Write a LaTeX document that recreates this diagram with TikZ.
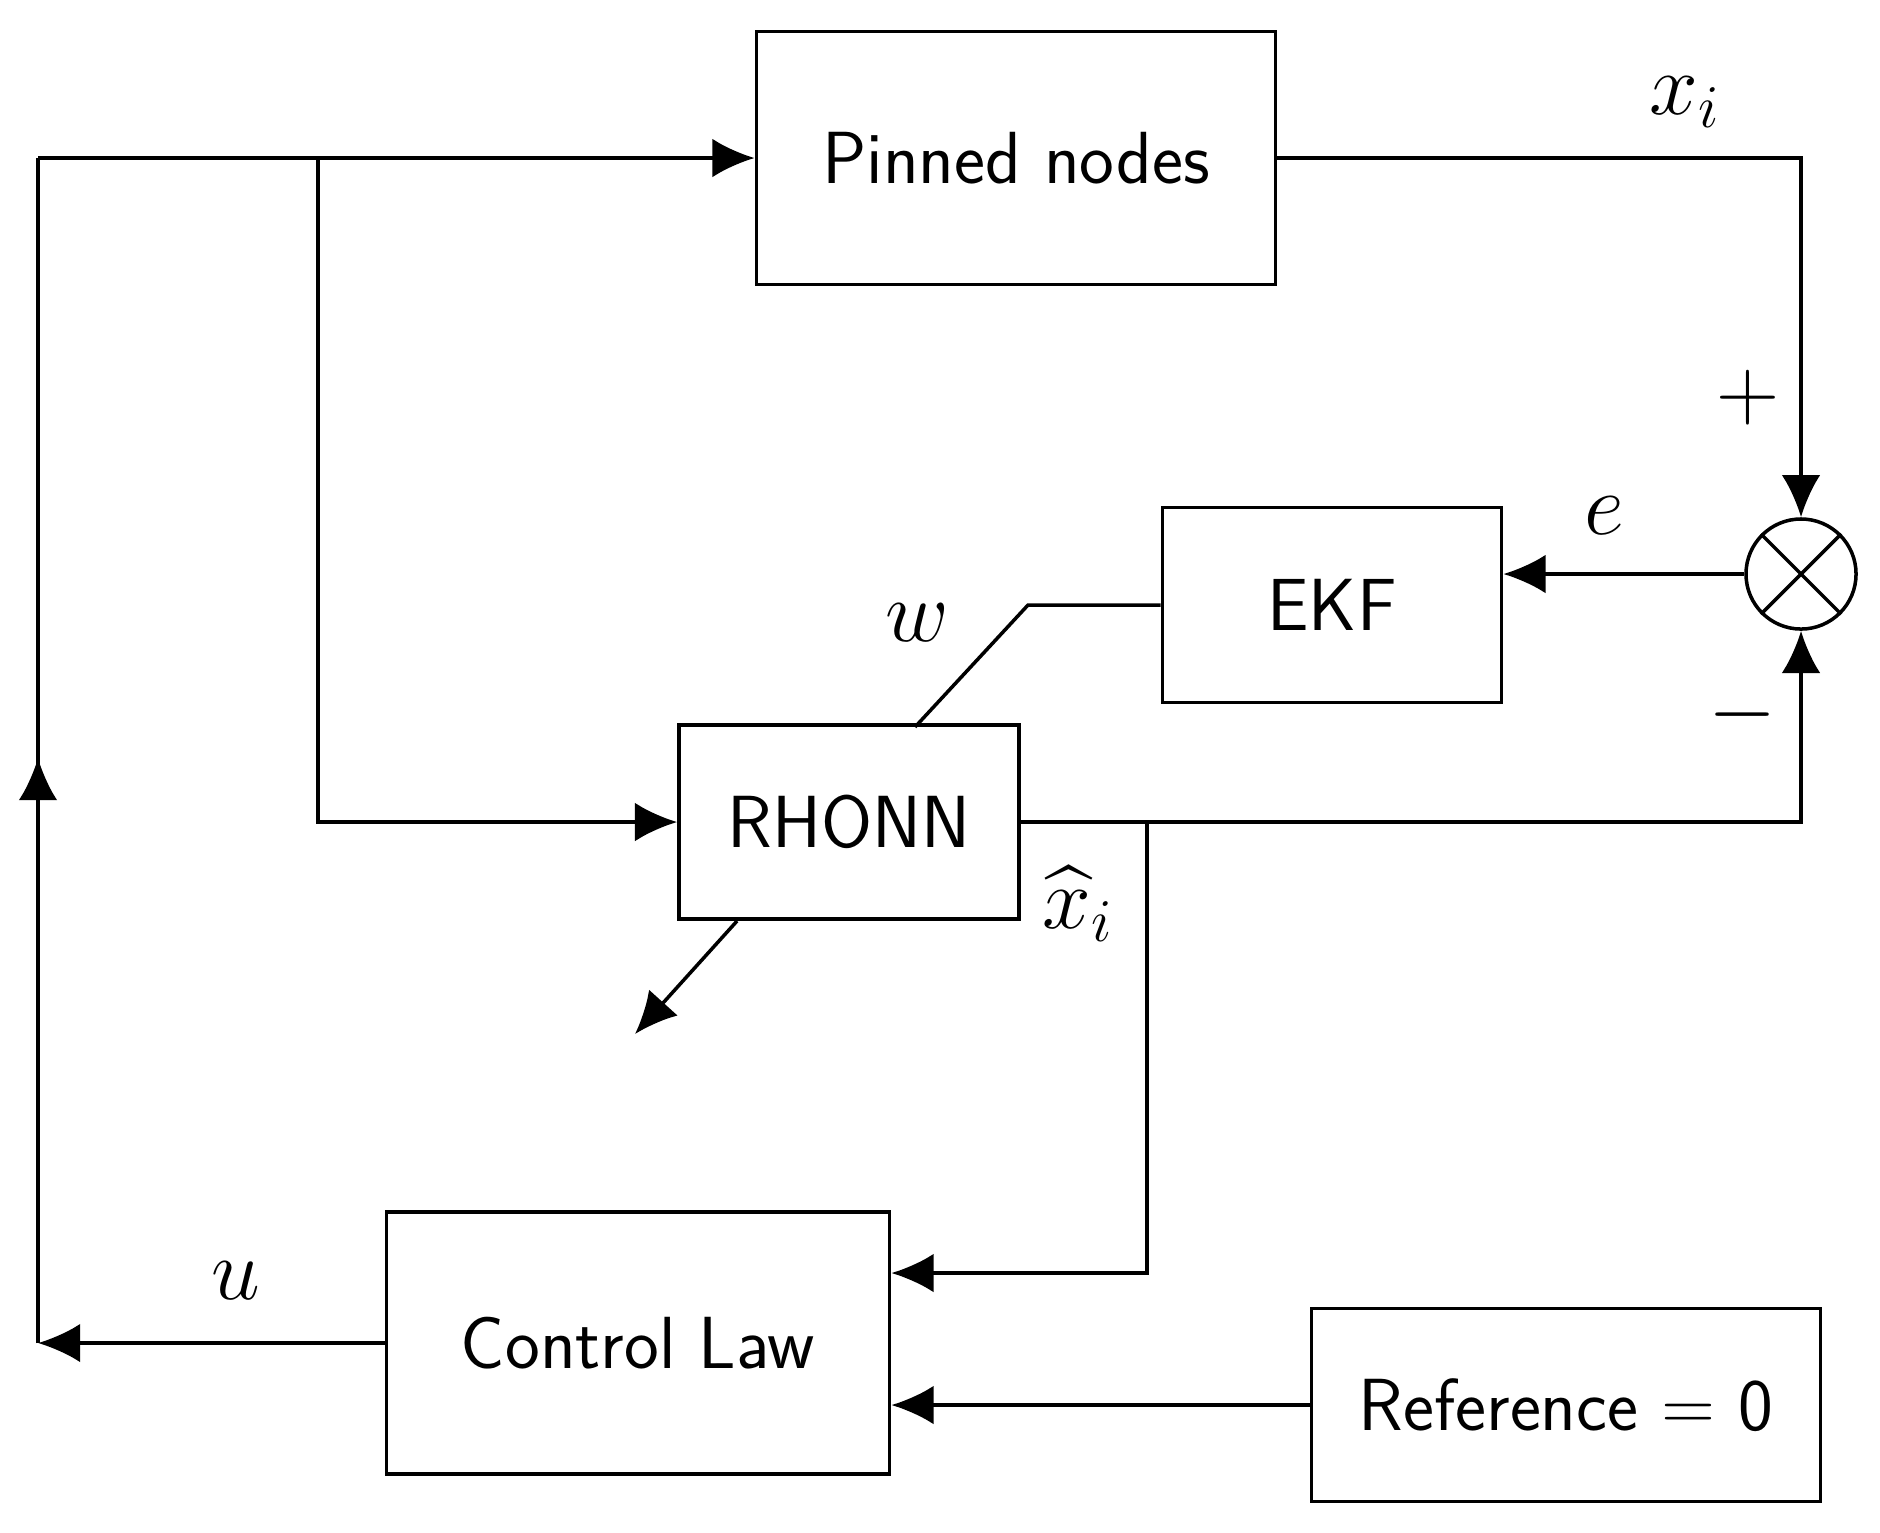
\documentclass[tikz,border=0pt]{standalone}
\usepackage{amsmath,amssymb}
\usepackage{tikz}
\usetikzlibrary{arrows.meta}
\tikzset{
  blk/.style={draw, rectangle, inner sep=0pt, font=\fontsize{21}{25}\selectfont\sffamily},
  lbl/.style={font=\fontsize{24}{28}\selectfont},
}

\begin{document}
\begin{tikzpicture}[x=0.01cm, y=-0.01cm, >={Latex[length=12pt, width=11pt]}, line width=1pt]
    \useasboundingbox (0,0) rectangle (1880,1532);
    % blocks
    \node[blk, minimum width=5.19cm, minimum height=2.53cm] (pin) at (1016,158) {Pinned nodes};
    \node[blk, minimum width=3.39cm, minimum height=1.95cm] (ekf) at (1332,605) {EKF};
    \node[blk, minimum width=3.40cm, minimum height=1.94cm] (rh) at (849,822) {RHONN};
    \node[blk, minimum width=5.03cm, minimum height=2.62cm] (cl) at (638,1343) {Control Law};
    \node[blk, minimum width=5.09cm, minimum height=1.93cm] (ref) at (1566,1405) {Reference = 0};
    \node[draw, circle, minimum size=1.1cm, inner sep=0pt] (sum) at (1801,574) {};
    \draw (sum.north west) -- (sum.south east);
    \draw (sum.north east) -- (sum.south west);
    % feedback wiring
    \coordinate (tl) at (38,158);
    \coordinate (br) at (318,158);
    \coordinate (up) at (38,758);
    \coordinate (xb) at (1147,822);
    \coordinate (ci) at (1147,1273);
    \coordinate (wk) at (1028,605);
    \coordinate (wr) at (915,727);
    \coordinate (ws) at (737,921);
    \coordinate (we) at (635,1034);
    \draw[->] (tl) -- (pin.west);
    \draw[->] (br) |- (rh.west);
    \draw[->] (cl.west) -- (cl.west -| tl);
    \draw (cl.west -| tl) -- (tl);
    \draw[->] (cl.west -| tl) -- (up);
    \draw[->] (pin.east) -| (sum.north);
    \draw[->] (sum.west) -- (sum.west -| ekf.east);
    \draw[->] (rh.east) -| (sum.south);
    \draw[->] (xb) -- (ci) -- (ci -| cl.east);
    \draw[->] (ref.west) -- (ref.west -| cl.east);
    \draw (ekf.west) -- (wk) -- (wr);
    \draw[->] (ws) -- (we);
    % labels
    \node[lbl, inner sep=0pt] (lxi) at (1685,102) {$x_i$};
    \node[lbl, inner sep=0pt] (lp) at (1748,398) {$+$};
    \node[lbl, inner sep=0pt] (le) at (1604,516) {$e$};
    \node[lbl, inner sep=0pt] (lm) at (1742,715) {$-$};
    \node[lbl, inner sep=0pt] (lxh) at (1078,904) {$\widehat{x}_i$};
    \node[lbl, inner sep=0pt] (lw) at (917,623) {$w$};
    \node[lbl, inner sep=0pt] (lu) at (236,1281) {$u$};
\end{tikzpicture}
\end{document}
